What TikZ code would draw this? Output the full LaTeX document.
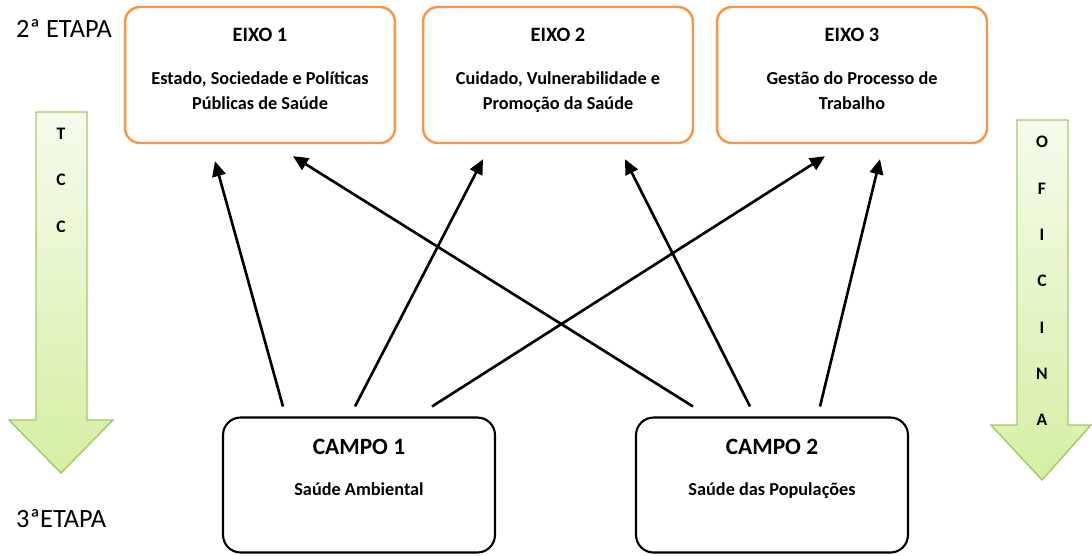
\documentclass[tikz,border=0pt]{standalone}
\usepackage{fontspec}
\setmainfont{Carlito}
\usetikzlibrary{arrows.meta, calc}
\definecolor{corange}{HTML}{F79646}
\definecolor{cgreen}{HTML}{A3C96A}
\definecolor{clight}{HTML}{F5FBEC}
\definecolor{cpale}{HTML}{D4EFA2}
\tikzset{
  every picture/.style={x=0.02cm, y=-0.02cm},
  eixo/.style={draw=corange, line width=1.4pt, rounded corners=8.5pt, align=center, minimum width=5.4cm, minimum height=2.72cm, font=\fontsize{10.4}{14.2}\selectfont\bfseries},
  campo/.style={draw=black, line width=1.2pt, rounded corners=10pt, align=center, minimum width=5.44cm, minimum height=2.7cm, font=\fontsize{10.4}{14.2}\selectfont\bfseries},
  arrow/.style={-{Triangle[length=0.3cm, width=0.27cm]}, line width=1.5pt},
  seta/.style={draw=cgreen, line width=0.8pt, top color=clight, bottom color=cpale},
  letras/.style={align=center, font=\fontsize{10}{26.4}\selectfont\bfseries},
  etapa/.style={anchor=west, font=\fontsize{15}{18}\selectfont},
}

\begin{document}
\begin{tikzpicture}
  \useasboundingbox (0,0) rectangle (1092,555);
  % eixos (2a etapa)
  \node[eixo] (e1) at (260,75) {{\fontsize{11.6}{13}\selectfont EIXO 1}\\[10pt] Estado, Sociedade e Políticas\\ Públicas de Saúde\\[-7pt] \mbox{}};
  \node[eixo] (e2) at (558,75) {{\fontsize{11.6}{13}\selectfont EIXO 2}\\[10pt] Cuidado, Vulnerabilidade e\\ Promoção da Saúde\\[-7pt] \mbox{}};
  \node[eixo] (e3) at (852,75) {{\fontsize{11.6}{13}\selectfont EIXO 3}\\[10pt] Gestão do Processo de\\ Trabalho\\[-7pt] \mbox{}};
  % campos (3a etapa)
  \node[campo] (c1) at (359,485) {{\fontsize{13.3}{15}\selectfont CAMPO 1}\\[9pt] Saúde Ambiental\\[6pt] \mbox{}};
  \node[campo] (c2) at (772,485) {{\fontsize{13.3}{15}\selectfont CAMPO 2}\\[9pt] Saúde das Populações\\[6pt] \mbox{}};
  \node[etapa] (et2) at (10,28) {2ª ETAPA};
  \node[etapa] (et3) at (10,519) {3ªETAPA};
  % setas laterais
  \draw[seta] (36,112) -- (87,112) -- (87,420) -- (113,420) -- (61,473) -- (9,420) -- (36,420) -- cycle;
  \draw[seta] (1017,120) -- (1068,120) -- (1068,425) -- (1091,425) -- (1042,480) -- (991,425) -- (1017,425) -- cycle;
  \node[letras] (tcc) at (61,180) {T\\C\\C};
  \node[letras] (ofi) at (1042,281) {O\\F\\I\\C\\I\\N\\A};
  % ligacoes
  \draw[arrow] ($(c1.north)+(-76,-10)$) -- ($(e1.south)+(-45,17)$);
  \draw[arrow] ($(c1.north)+(-4,-10)$) -- ($(e2.south)+(-75,15)$);
  \draw[arrow] ($(c1.north)+(73,-10)$) -- ($(e3.south)+(-27,12)$);
  \draw[arrow] ($(c2.north)+(-79,-10)$) -- ($(e1.south)+(33,12)$);
  \draw[arrow] ($(c2.north)+(-22,-10)$) -- ($(e2.south)+(67,15)$);
  \draw[arrow] ($(c2.north)+(48,-10)$) -- ($(e3.south)+(28,15)$);
\end{tikzpicture}
\end{document}
